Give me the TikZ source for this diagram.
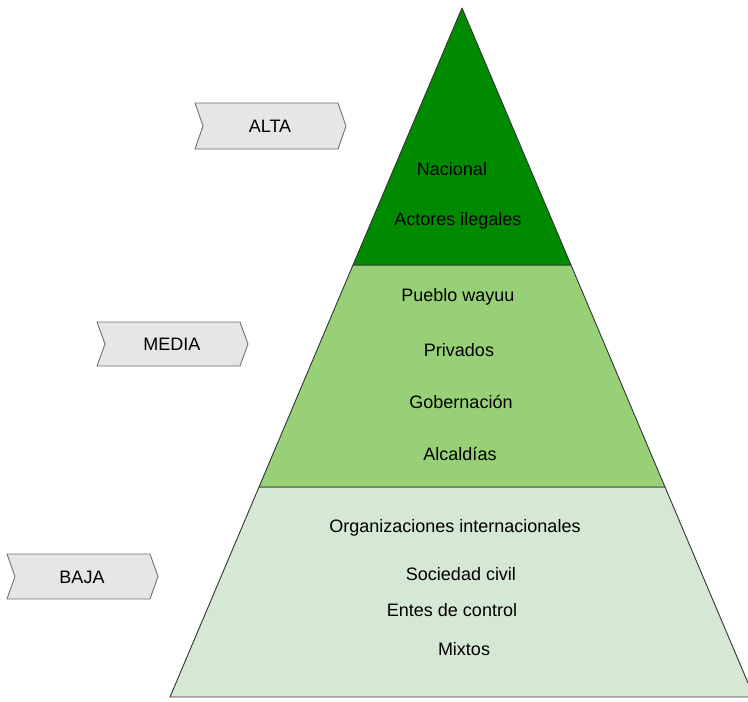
\documentclass[tikz,border=0pt]{standalone}
\usepackage{fontspec}
\setmainfont{Liberation Sans}
\definecolor{tierhigh}{HTML}{008A00}
\definecolor{tiermid}{HTML}{97D077}
\definecolor{tierlow}{HTML}{D5E8D4}
\definecolor{tagfill}{HTML}{E6E6E6}
\definecolor{tagline}{HTML}{707070}
\begin{document}
\begin{tikzpicture}[x=1pt,y=-1pt,
  tier/.style={draw=black!80, line width=0.9pt, line join=round},
  tag/.style={fill=tagfill, draw=tagline, line width=0.9pt, line join=miter},
  label/.style={font=\fontsize{18}{21}\selectfont, inner sep=0pt, anchor=center},
  item/.style={font=\fontsize{18}{21}\selectfont, inner sep=0pt, anchor=center}]
\useasboundingbox (0,0) rectangle (748,702);
\begin{scope}
\clip (0,0) rectangle (748,702);
% pyramid tiers, from the base up
\coordinate (apex) at (462,8);
\coordinate (tl) at (353,265);
\coordinate (tr) at (571,265);
\coordinate (ml) at (259,487);
\coordinate (mr) at (665,487);
\coordinate (bl) at (170,697);
\coordinate (br) at (754,697);
\path[tier, fill=tierlow] (ml) -- (mr) -- (br) -- (bl) -- cycle;
\path[tier, fill=tiermid] (tl) -- (tr) -- (mr) -- (ml) -- cycle;
\path[tier, fill=tierhigh] (apex) -- (tr) -- (tl) -- cycle;
\end{scope}

% level tags (notched arrows)
\path[tag] (195,103) -- (338,103) -- (346,126) -- (338,149) -- (195,149) -- (203,126) -- cycle;
\path[tag] (97,322) -- (240,322) -- (248,344) -- (240,366) -- (97,366) -- (105,344) -- cycle;
\path[tag] (7,554) -- (150,554) -- (158,576.5) -- (150,599) -- (7,599) -- (15,576.5) -- cycle;
\node[label] (alta) at (270,126) {ALTA};
\node[label] (media) at (172,344) {MEDIA};
\node[label] (baja) at (82,577) {BAJA};

% actors per level
\node[item] (nac) at (452,169) {Nacional};
\node[item] (ileg) at (458,221) {Actores ilegales};
\node[item] (wayuu) at (458,297) {Pueblo wayuu};
\node[item] (priv) at (459,350) {Privados};
\node[item] (gob) at (461,402) {Gobernación};
\node[item] (alc) at (460,454) {Alcaldías};
\node[item] (org) at (455,528) {Organizaciones internacionales};
\node[item] (soc) at (461,574) {Sociedad civil};
\node[item] (entes) at (452,610) {Entes de control};
\node[item] (mix) at (464,649) {Mixtos};
\end{tikzpicture}
\end{document}
